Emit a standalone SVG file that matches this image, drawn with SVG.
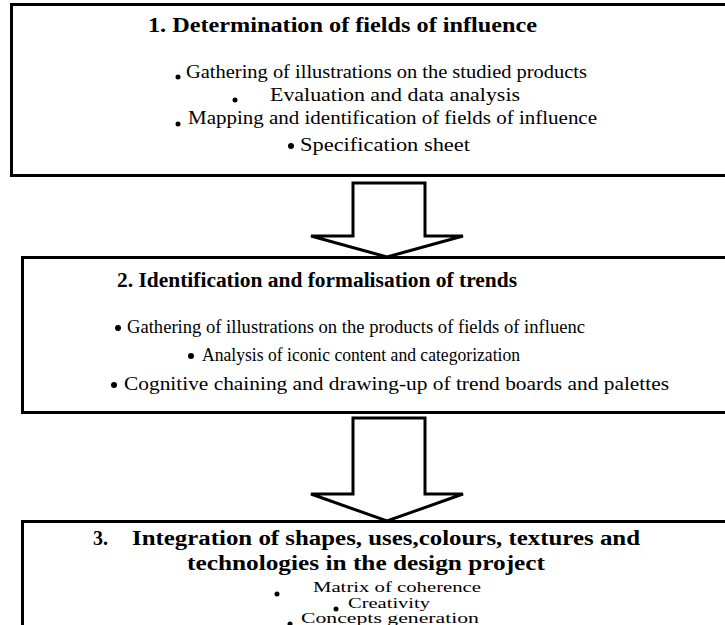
<svg xmlns="http://www.w3.org/2000/svg" width="725" height="625" viewBox="0 0 725 625">
<style>
.box{fill:#fff;stroke:#000;stroke-width:3}
.arr{fill:#fff;stroke:#000;stroke-width:3;stroke-linejoin:miter}
.t{font-family:"Liberation Serif","Times New Roman",serif;font-weight:bold;font-size:20px;fill:#000}
.b{font-family:"Liberation Serif","Times New Roman",serif;font-size:19px;fill:#000}
.s{font-family:"Liberation Serif","Times New Roman",serif;font-size:15px;fill:#000}
.d{fill:#000}
</style>
<rect width="725" height="625" fill="#fff"/>
<g id="connectors">
<path class="arr" d="M353,183 H425 V236 H463 L387,257 L311,236 H353 Z"/>
<path class="arr" d="M353,418 H425 V494 H463 L387,521 L311,494 H353 Z"/>
</g>
<g id="node1">
<rect class="box" x="11.5" y="4.5" width="730" height="171"/>
<text class="t" x="148" y="32" textLength="389" lengthAdjust="spacingAndGlyphs">1. Determination of fields of influence</text>
<circle class="d" cx="178" cy="77" r="2.5"/>
<text class="b" x="186" y="78" textLength="401" lengthAdjust="spacingAndGlyphs">Gathering of illustrations on the studied products</text>
<circle class="d" cx="235" cy="100" r="2.5"/>
<text class="b" x="270" y="101" textLength="250" lengthAdjust="spacingAndGlyphs">Evaluation and data analysis</text>
<circle class="d" cx="178" cy="124" r="2.5"/>
<text class="b" x="188" y="124" textLength="409" lengthAdjust="spacingAndGlyphs">Mapping and identification of fields of influence</text>
<circle class="d" cx="291" cy="146" r="3"/>
<text class="b" x="300" y="151" textLength="170" lengthAdjust="spacingAndGlyphs">Specification sheet</text>
</g>
<g id="node2">
<rect class="box" x="22.5" y="257.5" width="720" height="155"/>
<text class="t" x="117" y="287" textLength="400" lengthAdjust="spacingAndGlyphs">2. Identification and formalisation of trends</text>
<circle class="d" cx="118" cy="328" r="3"/>
<text class="b" x="127" y="333" textLength="458" lengthAdjust="spacingAndGlyphs">Gathering of illustrations on the products of fields of influenc</text>
<circle class="d" cx="191" cy="356" r="3"/>
<text class="b" x="202" y="361" textLength="318" lengthAdjust="spacingAndGlyphs">Analysis of iconic content and categorization</text>
<circle class="d" cx="114" cy="385" r="3"/>
<text class="b" x="124" y="390" textLength="545" lengthAdjust="spacingAndGlyphs">Cognitive chaining and drawing-up of trend boards and palettes</text>
</g>
<g id="node3">
<rect class="box" x="22.5" y="521.5" width="720" height="120"/>
<text class="t" x="93" y="545" font-size="15">3.</text>
<text class="t" x="132" y="545" textLength="508" lengthAdjust="spacingAndGlyphs">Integration of shapes, uses,colours, textures and</text>
<text class="t" x="187" y="570" textLength="358" lengthAdjust="spacingAndGlyphs">technologies in the design  project</text>
<circle class="d" cx="277" cy="594" r="2.5"/>
<text class="s" x="313" y="592" textLength="168" lengthAdjust="spacingAndGlyphs">Matrix of coherence</text>
<circle class="d" cx="336" cy="609" r="2.5"/>
<text class="s" x="348" y="608" textLength="82" lengthAdjust="spacingAndGlyphs">Creativity</text>
<circle class="d" cx="290" cy="624" r="2.5"/>
<text class="s" x="301" y="623" textLength="178" lengthAdjust="spacingAndGlyphs">Concepts generation</text>
</g>
</svg>
